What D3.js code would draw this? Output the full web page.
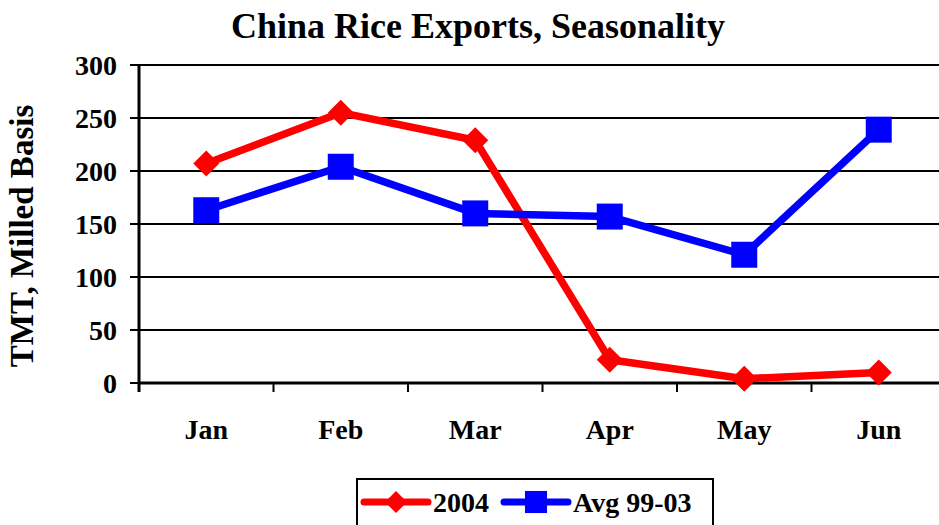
<!DOCTYPE html>
<html>
<head>
<script src="https://cdn.jsdelivr.net/npm/d3@7"></script>
<style>
    body { margin: 0; background: #fff; }
    text { font-family: "Liberation Serif", "Times New Roman", serif; font-weight: bold; fill: #000; }
</style>
</head>
<body>
<script>
var width = 939, height = 525;

var months = ["Jan", "Feb", "Mar", "Apr", "May", "Jun"];
var series2004 = [207, 255, 229, 22, 4, 10];
var seriesAvg = [163, 204, 160, 157, 121, 239];
var yTicks = [0, 50, 100, 150, 200, 250, 300];

var plotLeft = 139, plotRight = 946, plotTop = 65, plotBottom = 383;

var svg = d3.select("body").append("svg")
    .attr("width", width)
    .attr("height", height);

var x = d3.scaleBand().domain(months).range([plotLeft, plotRight]);
var y = d3.scaleLinear().domain([0, 300]).range([plotBottom, plotTop]);

// title
svg.append("text")
    .attr("x", 478).attr("y", 38)
    .attr("text-anchor", "middle")
    .style("font-size", "36px")
    .text("China Rice Exports, Seasonality");

// gridlines + y ticks
svg.selectAll("line.grid")
    .data(yTicks)
    .enter().append("line")
    .attr("class", "grid")
    .attr("x1", plotLeft - 9).attr("x2", plotRight)
    .attr("y1", function(d) { return y(d); })
    .attr("y2", function(d) { return y(d); })
    .style("stroke", "#000")
    .style("stroke-width", 2);

svg.selectAll("text.ytick")
    .data(yTicks)
    .enter().append("text")
    .attr("class", "ytick")
    .attr("x", plotLeft - 22)
    .attr("y", function(d) { return y(d) + 10; })
    .attr("text-anchor", "end")
    .style("font-size", "28px")
    .text(function(d) { return d; });

// y axis line
svg.append("line")
    .attr("x1", plotLeft).attr("x2", plotLeft)
    .attr("y1", plotTop).attr("y2", plotBottom + 9)
    .style("stroke", "#000").style("stroke-width", 3);

// x axis line
svg.append("line")
    .attr("x1", plotLeft).attr("x2", plotRight)
    .attr("y1", plotBottom).attr("y2", plotBottom)
    .style("stroke", "#000").style("stroke-width", 3);

// x ticks between categories
var xTickPos = months.map(function(m) { return x(m); }).concat([plotRight]);
svg.selectAll("line.xtick")
    .data(xTickPos)
    .enter().append("line")
    .attr("class", "xtick")
    .attr("x1", function(d) { return d; })
    .attr("x2", function(d) { return d; })
    .attr("y1", plotBottom).attr("y2", plotBottom + 9)
    .style("stroke", "#000").style("stroke-width", 2);

svg.selectAll("text.xlab")
    .data(months)
    .enter().append("text")
    .attr("class", "xlab")
    .attr("x", function(d) { return x(d) + x.bandwidth() / 2; })
    .attr("y", 439)
    .attr("text-anchor", "middle")
    .style("font-size", "28px")
    .text(function(d) { return d; });

// y axis title
svg.append("text")
    .attr("transform", "translate(33,236) rotate(-90)")
    .attr("text-anchor", "middle")
    .style("font-size", "33px")
    .text("TMT, Milled Basis");

var line = d3.line()
    .x(function(d, i) { return x(months[i]) + x.bandwidth() / 2; })
    .y(function(d) { return y(d); });

function drawSeries(data, color, shape, cls) {
    svg.append("path")
        .datum(data)
        .attr("d", line)
        .style("fill", "none")
        .style("stroke", color)
        .style("stroke-width", 7.5)
        .style("stroke-linejoin", "round");
    svg.selectAll("path." + cls)
        .data(data)
        .enter().append("path")
        .attr("class", cls)
        .attr("transform", function(d, i) {
            return "translate(" + (x(months[i]) + x.bandwidth() / 2) + "," + y(d) + ")";
        })
        .attr("d", shape)
        .style("fill", color);
}

var diamond = "M0,-13L13,0L0,13L-13,0Z";
var square = "M-13,-13H13V13H-13Z";

drawSeries(series2004, "#ff0000", diamond, "m2004");
drawSeries(seriesAvg, "#0000ff", square, "mavg");

// legend
var lg = svg.append("g");
lg.append("rect")
    .attr("x", 357).attr("y", 479)
    .attr("width", 356).attr("height", 60)
    .style("fill", "#fff").style("stroke", "#000").style("stroke-width", 2);

var items = [
    {label: "2004", color: "#ff0000", shape: diamond, x0: 364},
    {label: "Avg 99-03", color: "#0000ff", shape: square, x0: 504}
];
items.forEach(function(it) {
    lg.append("line")
        .attr("x1", it.x0).attr("x2", it.x0 + 64)
        .attr("y1", 502).attr("y2", 502)
        .style("stroke", it.color).style("stroke-width", 7)
        .style("stroke-linecap", "round");
    lg.append("path")
        .attr("transform", "translate(" + (it.x0 + 32) + ",502) scale(0.85)")
        .attr("d", it.shape)
        .style("fill", it.color);
    lg.append("text")
        .attr("x", it.x0 + 69).attr("y", 512)
        .style("font-size", "28px")
        .text(it.label);
});
</script>
</body>
</html>
